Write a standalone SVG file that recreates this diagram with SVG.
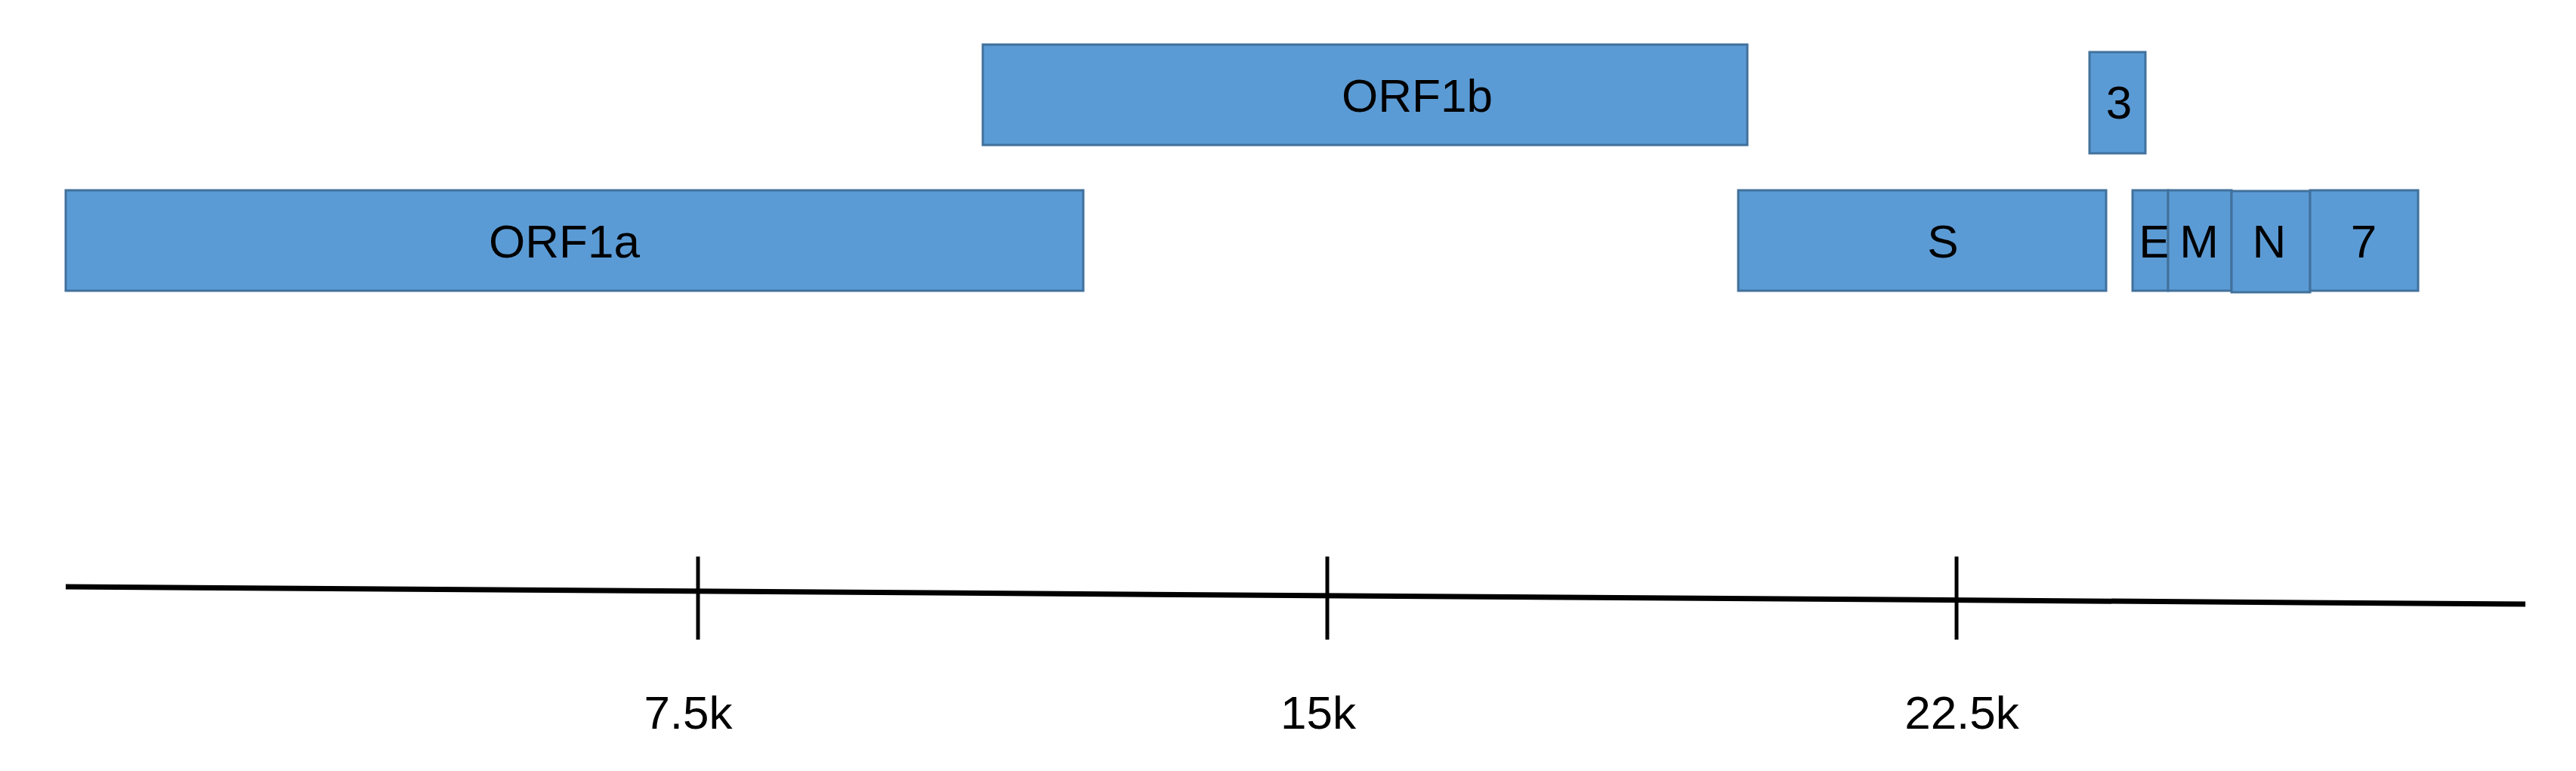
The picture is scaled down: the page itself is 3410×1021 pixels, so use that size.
<svg xmlns="http://www.w3.org/2000/svg" width="3410" height="1021" viewBox="0 0 3410 1021">
<style>
.gene{fill:#5B9BD5;stroke:#41719C;stroke-width:3}
.lbl{font-family:"Liberation Sans",Arial,sans-serif;font-size:62px;fill:#000;text-anchor:middle}
.axis{stroke:#000;stroke-width:7;fill:none}
.tick{stroke:#000;stroke-width:5}
</style>
<rect width="3410" height="1021" fill="#fff"/>
<g id="ORF1b"><rect class="gene" x="1301" y="59" width="1012" height="133"/><text class="lbl" x="1876" y="148">ORF1b</text></g>
<g id="ORF1a"><rect class="gene" x="87" y="252" width="1347" height="133"/><text class="lbl" x="747" y="341">ORF1a</text></g>
<g id="S"><rect class="gene" x="2301" y="252" width="487" height="133"/><text class="lbl" x="2572" y="341">S</text></g>
<g id="g3"><rect class="gene" x="2766" y="69" width="74" height="134"/><text class="lbl" x="2805" y="157">3</text></g>
<g id="E"><rect class="gene" x="2823" y="252" width="47" height="133"/><text class="lbl" x="2852" y="341">E</text></g>
<g id="M"><rect class="gene" x="2870" y="252" width="84" height="133"/><text class="lbl" x="2911" y="341">M</text></g>
<g id="N"><rect class="gene" x="2954" y="253" width="104" height="134"/><text class="lbl" x="3004" y="341">N</text></g>
<g id="g7"><rect class="gene" x="3058" y="252" width="143" height="133"/><text class="lbl" x="3129" y="341">7</text></g>
<g id="connectors">
<line class="axis" x1="87" y1="777" x2="3343" y2="800"/>
<line class="tick" x1="924" y1="737" x2="924" y2="847"/>
<line class="tick" x1="1757" y1="737" x2="1757" y2="847"/>
<line class="tick" x1="2590" y1="737" x2="2590" y2="847"/>
</g>
<g id="labels">
<text class="lbl" x="911" y="965">7.5k</text>
<text class="lbl" x="1745" y="965">15k</text>
<text class="lbl" x="2597" y="965">22.5k</text>
</g>
</svg>
